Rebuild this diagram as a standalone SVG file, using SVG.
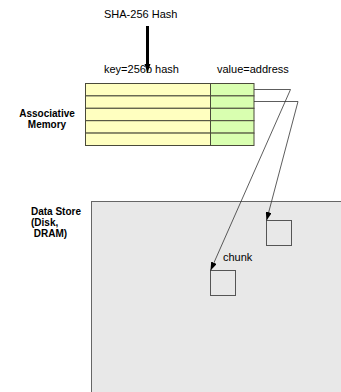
<svg xmlns="http://www.w3.org/2000/svg" width="341" height="392" viewBox="0 0 341 392">
<style>
text{font-family:"Liberation Sans",Arial,sans-serif;fill:#000}
.lbl{font-size:11px}
.bold{font-size:10px;font-weight:bold}
.key{fill:#ffffc0;stroke:#4a4a3a;stroke-width:1}
.val{fill:#d9ffb0;stroke:#4a4a3a;stroke-width:1}
.box{fill:none;stroke:#555;stroke-width:1}
.conn{fill:none;stroke:#333;stroke-width:0.8}
</style>
<defs>
<marker id="ah" markerUnits="userSpaceOnUse" markerWidth="9" markerHeight="6" refX="8.5" refY="3" orient="auto">
<path d="M0,0 L8.5,3 L0,6 z" fill="#000"/>
</marker>
</defs>
<rect width="341" height="392" fill="#fff"/>
<g id="data-store">
<rect x="91.5" y="201.5" width="260" height="200" fill="#e8e8e8" stroke="#666" stroke-width="1"/>
<text class="bold" x="31" y="215">Data Store</text>
<text class="bold" x="31" y="226">(Disk,</text>
<text class="bold" x="31" y="237" xml:space="preserve"> DRAM)</text>
</g>
<g id="chunk1">
<rect class="box" x="266.5" y="220.5" width="25" height="25"/>
</g>
<g id="chunk2">
<rect class="box" x="210.5" y="270.5" width="25" height="25"/>
<text class="lbl" x="223" y="261">chunk</text>
</g>
<g id="hash-input">
<text class="lbl" x="104" y="18">SHA-256 Hash</text>
</g>
<g id="assoc-memory">
<text class="bold" x="47" y="116.5" text-anchor="middle">Associative</text>
<text class="bold" x="47" y="127.5" text-anchor="middle">Memory</text>
<text class="lbl" x="104" y="73">key=256b hash</text>
<text class="lbl" x="217" y="73">value=address</text>
<rect class="key" x="85.5" y="83.5" width="125" height="12.4"/>
<rect class="key" x="85.5" y="95.9" width="125" height="12.4"/>
<rect class="key" x="85.5" y="108.3" width="125" height="12.4"/>
<rect class="key" x="85.5" y="120.7" width="125" height="12.4"/>
<rect class="key" x="85.5" y="133.1" width="125" height="12.4"/>
<rect class="val" x="210.5" y="83.5" width="43.5" height="12.4"/>
<rect class="val" x="210.5" y="95.9" width="43.5" height="12.4"/>
<rect class="val" x="210.5" y="108.3" width="43.5" height="12.4"/>
<rect class="val" x="210.5" y="120.7" width="43.5" height="12.4"/>
<rect class="val" x="210.5" y="133.1" width="43.5" height="12.4"/>
</g>
<g id="connectors">
<line x1="147.5" y1="26" x2="147.5" y2="66" stroke="#000" stroke-width="3"/>
<path d="M144.5,64 L150.5,64 L147.5,73 z" fill="#000"/>
<polyline class="conn" points="254,89.5 290.5,89.5 210.5,270.5" marker-end="url(#ah)"/>
<polyline class="conn" points="254,101.5 298,101.5 266.5,220.5" marker-end="url(#ah)"/>
</g>
</svg>
